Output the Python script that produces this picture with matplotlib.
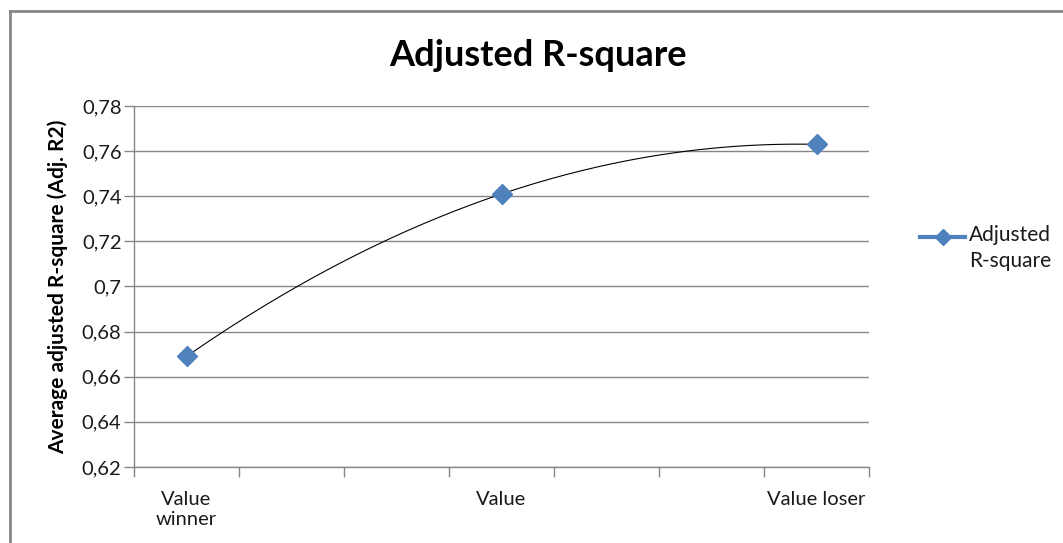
import numpy as np
import matplotlib.pyplot as plt
from matplotlib.lines import Line2D
from matplotlib.ticker import FuncFormatter, FixedLocator

plt.rcParams['font.family'] = ['Lato', 'DejaVu Sans']

categories = ['Value\nwinner', 'Value', 'Value loser']
adj_r2 = [0.669, 0.741, 0.763]
series_name = 'Adjusted\nR-square'

blue = '#4F81BD'
grey = '#868686'
W, H = 1063, 543

fig = plt.figure(figsize=(W / 100, H / 100), dpi=100)
ax = fig.add_axes([0.1261, 0.140, 0.6914, 0.6648])

x = np.arange(1, len(categories) + 1)

# polynomial trendline through the series
coef = np.polyfit(x, adj_r2, 2)
xs = np.linspace(x[0], x[-1], 200)
ax.plot(xs, np.polyval(coef, xs), color='black', lw=0.8, zorder=3)
ax.plot(x, adj_r2, linestyle='none', marker='D', markersize=10,
        color=blue, zorder=4)

ax.set_xlim(5 / 6, len(categories) + 1 / 6)
ax.set_ylim(0.62, 0.78)
ax.set_yticks(np.arange(0.62, 0.781, 0.02))
ax.yaxis.set_major_formatter(FuncFormatter(lambda v, p: f'{v:g}'.replace('.', ',')))

ax.set_xticks(x)
ax.set_xticklabels(categories, fontsize=14.5, color='#1a1a1a', linespacing=1.25)
ax.xaxis.set_minor_locator(FixedLocator(5 / 6 + np.arange(8) / 3))
ax.tick_params(axis='x', which='major', length=0, pad=17)
ax.tick_params(axis='x', which='minor', length=7, color=grey, width=1)
ax.tick_params(axis='y', length=7, color=grey, width=1, labelsize=14.5,
               labelcolor='#1a1a1a', pad=2)

ax.grid(axis='y', color=grey, lw=1)
ax.set_axisbelow(True)
for s in ['top', 'right']:
    ax.spines[s].set_visible(False)
for s in ['left', 'bottom']:
    ax.spines[s].set_color(grey)
    ax.spines[s].set_linewidth(1)

ax.set_ylabel('Average adjusted R-square (Adj. R2)', fontsize=15,
              fontweight='bold', labelpad=10)
fig.text(0.506, 0.897, 'Adjusted R-square', ha='center', va='center',
         fontsize=26, fontweight='bold')

# legend: series line with diamond, label wrapped on two lines
ly = 1 - 237 / H
fig.add_artist(Line2D([920 / W, 965 / W], [ly, ly], color=blue, lw=3,
                      transform=fig.transFigure))
fig.add_artist(Line2D([942.5 / W], [ly], color=blue, marker='D',
                      markersize=8, transform=fig.transFigure))
fig.text(969 / W, 1 - 225 / H, series_name, ha='left', va='top',
         fontsize=15, color='#1a1a1a', linespacing=1.35)

# chart area border
fig.add_artist(Line2D([9.5 / W, 1], [1 - 10.5 / H, 1 - 10.5 / H],
                      color=grey, lw=2, transform=fig.transFigure))
fig.add_artist(Line2D([9.5 / W, 9.5 / W], [0, 1 - 10.5 / H],
                      color=grey, lw=2, transform=fig.transFigure))

fig.savefig('out.png', dpi=100)
